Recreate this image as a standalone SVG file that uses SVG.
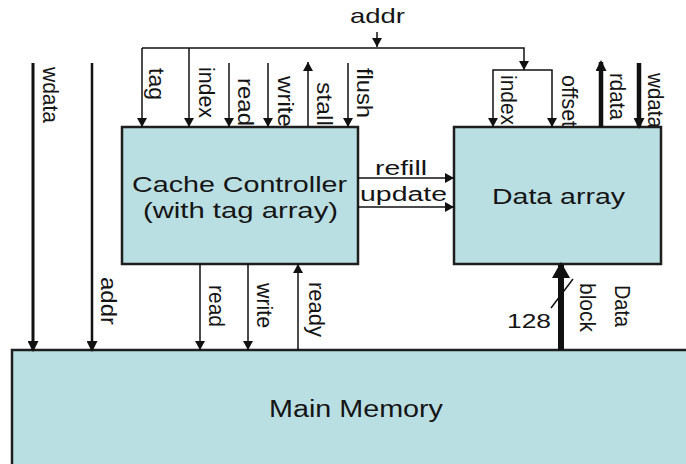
<svg xmlns="http://www.w3.org/2000/svg" width="686" height="464" viewBox="0 0 686 464">
<style>
text{font-family:"Liberation Sans",Arial,sans-serif;fill:#151515}
.lbl{font-size:22px}
.box{fill:#badfe3;stroke:#1e1e1e;stroke-width:2.5}
.w{fill:none;stroke:#111;stroke-width:1.5}
.t3{fill:none;stroke:#111;stroke-width:3}
.t4{fill:none;stroke:#111;stroke-width:4.5}
.t6{fill:none;stroke:#111;stroke-width:6}
</style>
<defs>
<marker id="a" viewBox="0 0 9 10" refX="9" refY="5" markerWidth="9" markerHeight="10" markerUnits="userSpaceOnUse" orient="auto"><path d="M0,0L9,5L0,10z" fill="#111"/></marker>
<marker id="b" viewBox="0 0 11 11" refX="9" refY="5.5" markerWidth="11" markerHeight="11" markerUnits="userSpaceOnUse" orient="auto"><path d="M0,0L11,5.5L0,11z" fill="#111"/></marker>
<marker id="c" viewBox="0 0 16 18" refX="13" refY="9" markerWidth="16" markerHeight="18" markerUnits="userSpaceOnUse" orient="auto"><path d="M0,0L16,9L0,18z" fill="#111"/></marker>
</defs>
<rect width="686" height="464" fill="#fff"/>

<g id="main-memory">
<rect class="box" x="12" y="350" width="690" height="130"/>
<text x="269" y="417" font-size="23" textLength="174" lengthAdjust="spacingAndGlyphs">Main Memory</text>
</g>

<g id="cache-controller">
<rect class="box" x="122" y="127" width="236" height="137"/>
<text x="132" y="192" font-size="22" textLength="215" lengthAdjust="spacingAndGlyphs">Cache Controller</text>
<text x="143" y="218" font-size="22" textLength="195" lengthAdjust="spacingAndGlyphs">(with tag array)</text>
</g>

<g id="data-array">
<rect class="box" x="454" y="127" width="207" height="137"/>
<text x="492" y="204" font-size="22" textLength="133" lengthAdjust="spacingAndGlyphs">Data array</text>
</g>

<g id="connectors">
<path class="w" d="M142,48H524V70" marker-end="url(#a)"/>
<path class="w" d="M377,32V47" marker-end="url(#a)"/>
<path class="w" d="M142,48V127" marker-end="url(#a)"/>
<path class="w" d="M189,48V127" marker-end="url(#a)"/>
<path class="w" d="M229,63V127" marker-end="url(#a)"/>
<path class="w" d="M268,63V127" marker-end="url(#a)"/>
<path class="w" d="M308,127V62" marker-end="url(#a)"/>
<path class="w" d="M348,63V127" marker-end="url(#a)"/>
<path class="w" d="M523,70H493V127" marker-end="url(#a)"/>
<path class="w" d="M523,70H552V127" marker-end="url(#a)"/>
<path class="t4" d="M601,127V62" marker-end="url(#b)"/>
<path class="t4" d="M639,63V127" marker-end="url(#b)"/>
<path class="w" d="M358,178H454" marker-end="url(#a)"/>
<path class="w" d="M358,207H454" marker-end="url(#a)"/>
<path class="t3" d="M33,63V350" marker-end="url(#b)"/>
<path class="t3" d="M92,63V350" marker-end="url(#b)" style="stroke-width:2.5"/>
<path class="w" d="M200,264V350" marker-end="url(#a)"/>
<path class="w" d="M248,264V350" marker-end="url(#a)"/>
<path class="w" d="M298,350V264" marker-end="url(#a)"/>
<path class="t6" d="M561,350V265" marker-end="url(#c)"/>
<path class="w" d="M551,308L573,279"/>
</g>

<g id="labels" class="lbl">
<text x="350" y="23" font-size="21" textLength="55" lengthAdjust="spacingAndGlyphs">addr</text>
<text transform="translate(43,67) rotate(90)" textLength="56" lengthAdjust="spacingAndGlyphs">wdata</text>
<text transform="translate(149,68) rotate(90)" textLength="32" lengthAdjust="spacingAndGlyphs">tag</text>
<text transform="translate(199,67) rotate(90)" textLength="51" lengthAdjust="spacingAndGlyphs">index</text>
<text transform="translate(238,78) rotate(90)" textLength="48" lengthAdjust="spacingAndGlyphs">read</text>
<text transform="translate(278,76) rotate(90)" textLength="51" lengthAdjust="spacingAndGlyphs">write</text>
<text transform="translate(317,82) rotate(90)" textLength="44" lengthAdjust="spacingAndGlyphs">stall</text>
<text transform="translate(357,68) rotate(90)" textLength="50" lengthAdjust="spacingAndGlyphs">flush</text>
<text transform="translate(501,75) rotate(90)" textLength="50" lengthAdjust="spacingAndGlyphs">index</text>
<text transform="translate(562,75) rotate(90)" textLength="52" lengthAdjust="spacingAndGlyphs">offset</text>
<text transform="translate(610,73) rotate(90)" textLength="47" lengthAdjust="spacingAndGlyphs">rdata</text>
<text transform="translate(648,73) rotate(90)" textLength="55" lengthAdjust="spacingAndGlyphs">wdata</text>
<text x="375" y="175" font-size="20" textLength="52" lengthAdjust="spacingAndGlyphs">refill</text>
<text x="360" y="201" font-size="20" textLength="87" lengthAdjust="spacingAndGlyphs">update</text>
<text transform="translate(101,277) rotate(90)" textLength="48" lengthAdjust="spacingAndGlyphs">addr</text>
<text transform="translate(209,285) rotate(90)" textLength="42" lengthAdjust="spacingAndGlyphs">read</text>
<text transform="translate(257,283) rotate(90)" textLength="45" lengthAdjust="spacingAndGlyphs">write</text>
<text transform="translate(309,282) rotate(90)" textLength="55" lengthAdjust="spacingAndGlyphs">ready</text>
<text x="507" y="328" font-size="20" textLength="44" lengthAdjust="spacingAndGlyphs">128</text>
<text transform="translate(580,283) rotate(90)" textLength="49" lengthAdjust="spacingAndGlyphs">block</text>
<text transform="translate(615,285) rotate(90)" textLength="42" lengthAdjust="spacingAndGlyphs">Data</text>
</g>
</svg>
